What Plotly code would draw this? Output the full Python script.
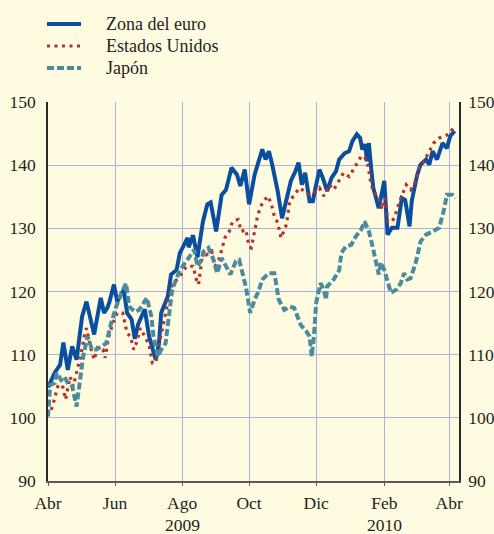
import plotly.graph_objects as go

# ---------------- data ----------------
euro_dates = [
    "2009-04-01", "2009-04-07", "2009-04-12", "2009-04-15", "2009-04-19", "2009-04-23", "2009-04-27",
    "2009-04-30", "2009-05-02", "2009-05-06", "2009-05-13", "2009-05-19", "2009-05-22", "2009-05-25",
    "2009-05-27", "2009-05-31", "2009-06-03", "2009-06-09", "2009-06-12", "2009-06-16", "2009-06-19",
    "2009-06-22", "2009-06-28", "2009-07-02", "2009-07-08", "2009-07-11", "2009-07-13", "2009-07-19",
    "2009-07-22", "2009-07-27", "2009-07-30", "2009-08-02", "2009-08-06", "2009-08-07", "2009-08-11",
    "2009-08-15", "2009-08-20", "2009-08-24", "2009-08-27", "2009-09-01", "2009-09-06", "2009-09-10",
    "2009-09-15", "2009-09-20", "2009-09-23", "2009-09-27", "2009-10-01", "2009-10-06", "2009-10-10",
    "2009-10-13", "2009-10-16", "2009-10-19", "2009-10-22", "2009-10-27", "2009-10-31", "2009-11-03",
    "2009-11-08", "2009-11-12", "2009-11-15", "2009-11-18", "2009-11-21", "2009-11-25", "2009-11-28",
    "2009-12-01", "2009-12-04", "2009-12-07", "2009-12-11", "2009-12-15", "2009-12-19", "2009-12-22",
    "2009-12-27", "2009-12-31", "2010-01-03", "2010-01-07", "2010-01-10", "2010-01-12", "2010-01-15",
    "2010-01-16", "2010-01-18", "2010-01-20", "2010-01-22", "2010-01-27", "2010-02-01", "2010-02-04",
    "2010-02-08", "2010-02-13", "2010-02-17", "2010-02-20", "2010-02-24", "2010-02-26", "2010-03-03",
    "2010-03-06", "2010-03-11", "2010-03-14", "2010-03-17", "2010-03-21", "2010-03-26", "2010-03-30",
    "2010-04-02", "2010-04-06",
]
euro_vals = [
    104.8, 107.1, 108.4, 111.9, 107.6, 111.3, 109.2,
    113.5, 116.0, 118.4, 113.2, 119.0, 116.6, 117.4,
    118.4, 121.1, 118.4, 120.3, 116.6, 115.6, 112.5,
    114.8, 117.2, 112.9, 109.2, 111.8, 116.6, 119.2,
    122.7, 123.4, 126.1, 127.1, 128.5, 127.0, 128.9,
    125.4, 131.1, 133.8, 134.1, 129.5, 135.3, 136.1,
    139.6, 138.5, 136.7, 139.3, 133.8, 138.5, 140.6,
    142.5, 140.9, 142.2, 140.1, 135.9, 131.6, 133.8,
    137.5, 139.0, 140.4, 136.9, 138.8, 134.3, 134.3,
    136.9, 139.3, 138.0, 135.9, 138.0, 139.0, 140.9,
    141.9, 142.2, 143.8, 144.9, 144.3, 142.5, 143.3,
    140.6, 143.5, 139.6, 136.4, 133.2, 137.5, 129.0,
    130.1, 130.1, 134.8, 134.5, 130.3, 134.3, 138.5,
    140.1, 140.9, 140.1, 142.2, 140.9, 143.5, 142.7,
    144.6, 145.4,
]

us_dates = [
    "2009-04-01", "2009-04-04", "2009-04-06", "2009-04-10", "2009-04-13", "2009-04-17", "2009-04-21",
    "2009-04-24", "2009-04-28", "2009-05-01", "2009-05-04", "2009-05-06", "2009-05-10", "2009-05-13",
    "2009-05-16", "2009-05-21", "2009-05-23", "2009-05-26", "2009-05-30", "2009-06-03", "2009-06-08",
    "2009-06-12", "2009-06-15", "2009-06-18", "2009-06-21", "2009-06-24", "2009-06-28", "2009-07-02",
    "2009-07-05", "2009-07-08", "2009-07-12", "2009-07-15", "2009-07-20", "2009-07-23", "2009-07-30",
    "2009-08-05", "2009-08-11", "2009-08-14", "2009-08-16", "2009-08-20", "2009-08-23", "2009-08-28",
    "2009-08-31", "2009-09-04", "2009-09-07", "2009-09-09", "2009-09-13", "2009-09-16", "2009-09-21",
    "2009-09-24", "2009-09-28", "2009-10-01", "2009-10-03", "2009-10-06", "2009-10-09", "2009-10-13",
    "2009-10-18", "2009-10-21", "2009-10-24", "2009-10-27", "2009-10-30", "2009-11-04", "2009-11-07",
    "2009-11-11", "2009-11-16", "2009-11-20", "2009-11-25", "2009-11-29", "2009-12-04", "2009-12-08",
    "2009-12-13", "2009-12-17", "2009-12-22", "2009-12-26", "2009-12-31", "2010-01-05", "2010-01-08",
    "2010-01-11", "2010-01-14", "2010-01-17", "2010-01-20", "2010-01-24", "2010-01-27", "2010-01-30",
    "2010-02-02", "2010-02-04", "2010-02-07", "2010-02-10", "2010-02-15", "2010-02-18", "2010-02-21",
    "2010-02-25", "2010-03-02", "2010-03-05", "2010-03-09", "2010-03-14", "2010-03-18", "2010-03-23",
    "2010-03-27", "2010-04-01", "2010-04-06",
]
us_vals = [
    102.4, 101.3, 102.4, 105.0, 106.0, 102.9, 106.5,
    105.0, 107.9, 110.0, 112.9, 114.2, 111.0, 109.2,
    111.1, 110.8, 109.5, 112.6, 115.0, 116.6, 116.6,
    113.4, 112.9, 110.8, 112.1, 114.2, 112.9, 111.6,
    108.7, 108.7, 112.4, 115.0, 119.0, 121.1, 122.4,
    124.0, 124.0, 121.9, 121.1, 126.4, 125.8, 126.4,
    124.0, 125.3, 127.4, 128.5, 129.5, 131.1, 131.4,
    129.5, 129.8, 127.1, 126.9, 129.5, 132.2, 134.0,
    135.1, 134.0, 131.9, 130.9, 128.5, 130.6, 134.3,
    135.3, 136.4, 135.9, 135.3, 135.6, 136.4, 135.1,
    136.9, 136.1, 137.5, 138.8, 138.2, 139.6, 140.4,
    141.4, 141.4, 140.1, 136.9, 135.3, 134.8, 133.0,
    134.8, 131.1, 130.9, 131.6, 134.3, 135.6, 136.9,
    136.1, 137.5, 139.8, 140.6, 142.2, 143.5, 144.3,
    144.6, 144.9, 146.2,
]

jp_dates = [
    "2009-04-01", "2009-04-03", "2009-04-07", "2009-04-09", "2009-04-13", "2009-04-16", "2009-04-19",
    "2009-04-23", "2009-04-27", "2009-04-30", "2009-05-03", "2009-05-07", "2009-05-11", "2009-05-15",
    "2009-05-19", "2009-05-24", "2009-05-28", "2009-06-02", "2009-06-07", "2009-06-11", "2009-06-14",
    "2009-06-19", "2009-06-23", "2009-06-27", "2009-06-30", "2009-07-04", "2009-07-06", "2009-07-10",
    "2009-07-13", "2009-07-17", "2009-07-20", "2009-07-23", "2009-07-27", "2009-07-30", "2009-08-05",
    "2009-08-09", "2009-08-12", "2009-08-15", "2009-08-18", "2009-08-21", "2009-08-25", "2009-08-29",
    "2009-09-02", "2009-09-06", "2009-09-10", "2009-09-14", "2009-09-19", "2009-09-22", "2009-09-28",
    "2009-10-02", "2009-10-06", "2009-10-09", "2009-10-13", "2009-10-19", "2009-10-24", "2009-10-28",
    "2009-11-02", "2009-11-07", "2009-11-11", "2009-11-17", "2009-11-22", "2009-11-25", "2009-11-27",
    "2009-11-29", "2009-12-01", "2009-12-05", "2009-12-08", "2009-12-10", "2009-12-11", "2009-12-17",
    "2009-12-22", "2009-12-24", "2009-12-28", "2010-01-02", "2010-01-06", "2010-01-11", "2010-01-14",
    "2010-01-18", "2010-01-21", "2010-01-24", "2010-01-27", "2010-01-29", "2010-02-01", "2010-02-04",
    "2010-02-07", "2010-02-12", "2010-02-16", "2010-02-19", "2010-02-22", "2010-02-25", "2010-03-02",
    "2010-03-06", "2010-03-11", "2010-03-17", "2010-03-23", "2010-03-27", "2010-03-30", "2010-04-04",
    "2010-04-07",
]
jp_vals = [
    100.2, 105.2, 105.5, 107.1, 106.0, 106.5, 105.5,
    105.0, 101.8, 106.0, 109.7, 112.9, 110.8, 110.8,
    111.3, 111.8, 114.7, 117.6, 119.8, 121.3, 117.6,
    116.8, 117.1, 118.2, 119.0, 116.1, 112.9, 109.7,
    110.8, 111.8, 115.5, 120.3, 122.1, 123.4, 124.8,
    125.8, 126.6, 124.0, 124.8, 126.4, 126.9, 125.3,
    122.9, 125.3, 124.0, 122.7, 124.8, 125.0, 120.8,
    116.6, 118.7, 119.8, 121.9, 122.9, 122.9, 118.7,
    117.1, 117.6, 117.4, 114.7, 113.7, 112.9, 109.7,
    112.9, 118.2, 121.3, 120.3, 118.7, 120.8, 121.9,
    123.4, 126.1, 127.1, 127.4, 128.7, 129.8, 131.1,
    129.5, 127.4, 124.8, 122.7, 124.6, 123.4, 121.6,
    119.8, 120.3, 121.3, 122.9, 121.9, 122.1, 124.8,
    127.9, 129.0, 129.5, 130.1, 132.7, 135.3, 135.3,
    134.8,
]

series_names = ["Zona del euro", "Estados Unidos", "Japón"]
tick_dates = ["2009-04-01", "2009-06-01", "2009-08-01", "2009-10-01",
              "2009-12-01", "2010-02-01", "2010-04-01"]
tick_labels = ["Abr", "Jun", "Ago", "Oct", "Dic", "Feb", "Abr"]
year_dates = ["2009-08-01", "2010-02-01"]
year_labels = ["2009", "2010"]
y_ticks = [90, 100, 110, 120, 130, 140, 150]

# ---------------- styling ----------------
W, H = 494, 534
ML, MR, MT, MB = 48, 35, 102, 53
BG = "#FFFBE0"
GRID = "#A9B1DC"
AXIS = "#2A2A2A"
XAXIS = "#5A5A5A"
TXT = "#231F20"
FONT = "Liberation Serif, Times New Roman, serif"
colors = ["#0A4F9F", "#B3322E", "#4A8C9E"]
widths = [4, 3.2, 4]
dashes = ["solid", "3px,4.5px", "7px,3px"]

fig = go.Figure()
fig.add_trace(go.Scatter(x=euro_dates, y=euro_vals, mode="lines", name=series_names[0],
                         line=dict(color=colors[0], width=widths[0], dash=dashes[0])))
fig.add_trace(go.Scatter(x=us_dates, y=us_vals, mode="lines", name=series_names[1],
                         line=dict(color=colors[1], width=widths[1], dash=dashes[1])))
fig.add_trace(go.Scatter(x=jp_dates, y=jp_vals, mode="lines", name=series_names[2],
                         yaxis="y2",
                         line=dict(color=colors[2], width=widths[2], dash=dashes[2])))

# manual legend (in paper coordinates) to match the reference spacing
pw = W - ML - MR
ph = H - MT - MB
def px_x(px):
    return (px - ML) / pw
def px_y(py):
    return (H - MB - py) / ph

legend_y = [24, 46, 68]
for i, name in enumerate(series_names):
    yy = px_y(legend_y[i])
    fig.add_shape(type="line", xref="paper", yref="paper",
                  x0=px_x(47), x1=px_x(81), y0=yy, y1=yy,
                  line=dict(color=colors[i], width=widths[i], dash=dashes[i]))
    fig.add_annotation(xref="paper", yref="paper", x=px_x(104), y=yy,
                       xanchor="left", yanchor="middle", text=name, showarrow=False,
                       font=dict(size=18, family=FONT, color=TXT))

# year labels under the month ticks
for d, lab in zip(year_dates, year_labels):
    fig.add_annotation(xref="x", yref="paper", x=d, y=px_y(525),
                       xanchor="center", yanchor="middle", text=lab, showarrow=False,
                       font=dict(size=17.5, family=FONT, color=TXT))

fig.update_layout(
    width=W, height=H,
    paper_bgcolor=BG, plot_bgcolor=BG,
    margin=dict(l=ML, r=MR, t=MT, b=MB, autoexpand=False),
    font=dict(family=FONT, size=17.5, color=TXT),
    showlegend=False,
    xaxis=dict(type="date", range=["2009-04-01", "2010-04-10"],
               tickmode="array", tickvals=tick_dates, ticktext=tick_labels,
               showgrid=True, gridcolor=GRID, gridwidth=1,
               ticks="outside", ticklen=3, tickcolor=XAXIS, tickwidth=1.2,
               ticklabelstandoff=2,
               showline=True, linecolor=XAXIS, linewidth=1.5, zeroline=False),
    yaxis=dict(range=[90, 150], tickmode="array", tickvals=y_ticks,
               showgrid=True, gridcolor=GRID, gridwidth=1,
               ticks="", ticklabelstandoff=7,
               showline=True, linecolor=AXIS, linewidth=1.5, zeroline=False),
    yaxis2=dict(range=[90, 150], tickmode="array", tickvals=y_ticks,
                overlaying="y", side="right", anchor="x", showgrid=False,
                ticks="", ticklabelstandoff=4,
                showline=True, linecolor=AXIS, linewidth=1.5, zeroline=False),
)

fig.write_html(
    "out.html",
    config={"displayModeBar": False},
    post_script="document.body.style.margin='0';document.body.style.background='" + BG + "';",
)
